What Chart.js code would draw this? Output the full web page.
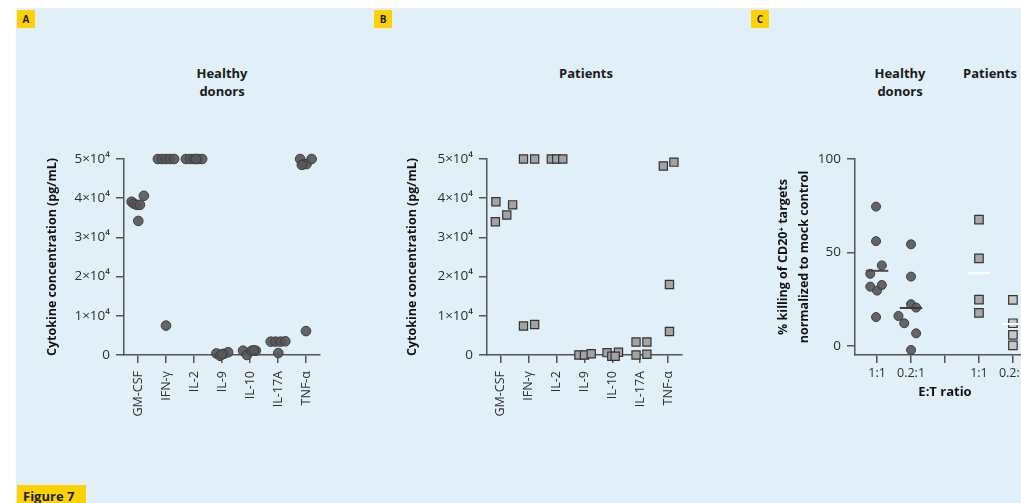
<!DOCTYPE html>
<html>
<head>
<meta charset="utf-8">
<script src="https://cdn.jsdelivr.net/npm/chart.js@4"></script>
<style>
  html, body { margin:0; padding:0; }
  body { width:1021px; height:503px; overflow:hidden; background:#ffffff; position:relative; font-family:'Open Sans', 'Noto Sans', sans-serif; }
  #bg { position:absolute; left:16px; top:8px; width:1005px; height:495px; background:#e1eff9; }
  .tag { position:absolute; background:#fdd200; color:#1a1a1a; font-weight:bold; font-size:10px; text-align:center; line-height:18px; width:18px; height:18px; }
  .ttl { position:absolute; color:#1a1a1a; font-weight:bold; font-size:13px; line-height:18px; text-align:center; transform:translateX(-50%); white-space:nowrap; }
  canvas { position:absolute; top:0; }
  #fig { position:absolute; left:17px; top:485px; width:69px; height:22px; background:#fdd200; color:#1a1a1a; font-weight:bold; font-size:13px; line-height:22px; padding-left:6px; box-sizing:border-box; }
</style>
</head>
<body>
<div id="bg"></div>
<div class="tag" style="left:17px;top:10px;">A</div>
<div class="tag" style="left:374px;top:10px;">B</div>
<div class="tag" style="left:751px;top:10px;">C</div>
<div class="ttl" style="left:222px;top:64px;">Healthy<br>donors</div>
<div class="ttl" style="left:586px;top:64px;">Patients</div>
<div class="ttl" style="left:900px;top:64px;">Healthy<br>donors</div>
<div class="ttl" style="left:990px;top:64px;">Patients</div>
<canvas id="cA" width="340" height="440" style="left:0px;width:340px;height:440px;"></canvas>
<canvas id="cB" width="340" height="440" style="left:360px;width:340px;height:440px;"></canvas>
<canvas id="cC" width="340" height="440" style="left:740px;width:340px;height:440px;"></canvas>
<div id="fig">Figure 7</div>
<script>
// ---------- DATA ----------
const cytokines = ['GM-CSF', 'IFN-γ', 'IL-2', 'IL-9', 'IL-10', 'IL-17A', 'TNF-α'];
const cytoTickValues = [0, 10000, 20000, 30000, 40000, 50000];
const cytoTickLabels = ['0', '1×10⁴', '2×10⁴', '3×10⁴', '4×10⁴', '5×10⁴'];

// Panel A: healthy donors (pg/mL), one list per cytokine
const healthyValues = [
  [39100, 38600, 38300, 38300, 40600, 34200],
  [50000, 50000, 50000, 50000, 50000, 7500],
  [50000, 50000, 50000, 50000, 50000, 50000],
  [400, -200, 300, 700, 200],
  [1100, 0, 1100, 1100, 1200],
  [3400, 3400, 3400, 3500, 500],
  [50000, 48700, 48700, 50000, 48500, 6100]
];
// horizontal scatter offsets within a category (category units)
const healthyJitter = [
  [-0.23, -0.15, -0.05, 0.07, 0.21, 0.01],
  [-0.29, -0.14, 0, 0.14, 0.29, 0],
  [-0.29, -0.14, 0, 0.14, 0.29, 0.07],
  [-0.2, -0.07, 0.07, 0.22, 0.0],
  [-0.25, -0.11, 0.06, 0.21, 0.14],
  [-0.26, -0.09, 0.09, 0.26, 0.01],
  [-0.21, -0.1, 0.02, 0.2, -0.15, 0]
];

// Panel B: patients (pg/mL)
const patientValues = [
  [39100, 34000, 35700, 38300],
  [50000, 50000, 7400, 7800],
  [50000, 50000, 50000],
  [0, 0, 300],
  [600, -300, 700, -300],
  [3300, 3300, 0, 200],
  [48200, 49200, 18000, 6000]
];
const patientJitter = [
  [-0.18, -0.2, 0.21, 0.42],
  [-0.19, 0.21, -0.19, 0.21],
  [-0.19, 0, 0.22],
  [-0.2, 0, 0.24],
  [-0.19, -0.02, 0.22, 0.1],
  [-0.15, 0.24, -0.15, 0.24],
  [-0.17, 0.21, 0.05, 0.05]
];

// Panel C: % killing of CD20+ targets
const etRatios = ['1:1', '0.2:1', '', '1:1', '0.2:1'];
const killTickValues = [0, 50, 100];
const killHealthy11 = [74.5, 56, 43, 38.5, 31.6, 29.5, 32.5, 15.3];
const killHealthy11Jitter = [-0.03, -0.03, 0.14, -0.2, -0.2, 0, 0.14, -0.03];
const killHealthy02 = [54.3, 37, 22.2, 20.4, 15.9, 12, 6.6, -2.3];
const killHealthy02Jitter = [0, 0, 0, 0.15, -0.37, -0.2, 0.15, 0];
const killPatients11 = [67.5, 46.8, 24.7, 17.6];
const killPatients02 = [24.5, 12, 5.8, 0.2];
const medianHealthy = [40.1, 20.2];
const medianPatients = [39, 11.6];

// ---------- STYLE HELPERS ----------
const FONT = "'Open Sans', 'Noto Sans', sans-serif";
const AXIS = '#555555';
const TXT = '#2e2e2e';

function pts(values, jitter, idx) {
  return values.map((v, j) => ({ x: idx + (jitter ? jitter[j] : 0), y: v }));
}
function axisCommon() {
  return {
    grid: { display: true, drawOnChartArea: false, drawTicks: true, tickLength: 8, color: AXIS, lineWidth: 1.5 },
    border: { display: true, color: AXIS, width: 1.5 }
  };
}
function baseOptions(padRight) {
  return {
    responsive: false,
    animation: false,
    events: [],
    layout: { padding: { top: 159, right: padRight, left: 0, bottom: 0 } },
    plugins: { legend: { display: false }, tooltip: { enabled: false }, title: { display: false } }
  };
}

function cytokineChart(id, values, jitter, style, yWidth, padRight) {
  const datasets = cytokines.map((c, i) => Object.assign({
    label: c,
    data: pts(values[i], jitter[i], i),
    clip: false
  }, style));
  const opts = baseOptions(padRight);
  opts.scales = {
    x: Object.assign(axisCommon(), {
      type: 'linear', min: -0.5, max: 6.5,
      afterBuildTicks: s => { s.ticks = cytokines.map((c, i) => ({ value: i })); },
      afterFit: s => { s.height = 85; },
      ticks: {
        autoSkip: false, minRotation: 90, maxRotation: 90, padding: 8, color: TXT,
        font: { family: FONT, size: 12.5 },
        callback: v => cytokines[Math.round(v)]
      }
    }),
    y: Object.assign(axisCommon(), {
      type: 'linear', min: 0, max: 50000,
      afterBuildTicks: s => { s.ticks = cytoTickValues.map(v => ({ value: v })); },
      afterFit: s => { s.width = yWidth; },
      ticks: {
        padding: 6, color: TXT, font: { family: FONT, size: 13.5 },
        callback: (v, i) => cytoTickLabels[i]
      },
      title: {
        display: true, text: 'Cytokine concentration (pg/mL)', color: '#111',
        font: { family: FONT, size: 12.5, weight: 'bold' },
        padding: { top: 45, bottom: 0 }
      }
    })
  };
  return new Chart(document.getElementById(id), { type: 'scatter', data: { datasets }, options: opts });
}

const circleStyle = {
  pointStyle: 'circle', pointRadius: 4.8,
  backgroundColor: 'rgba(88,88,88,0.92)', borderColor: '#3c3c3c', borderWidth: 1
};
const squareStyle = {
  pointStyle: 'rect', pointRadius: 5.8,
  backgroundColor: '#a3a3a3', borderColor: '#333333', borderWidth: 1.2
};

cytokineChart('cA', healthyValues, healthyJitter, circleStyle, 124, 20);
cytokineChart('cB', patientValues, patientJitter, squareStyle, 127, 18);

// Panel C
(function () {
  const medianLine = (m, i, color) => ({
    data: [{ x: i - 0.33, y: m }, { x: i + 0.33, y: m }],
    showLine: true, borderColor: color, borderWidth: 2, pointRadius: 0, clip: false, order: 0
  });
  const datasets = [
    Object.assign({ data: pts(killHealthy11, killHealthy11Jitter, 0), clip: false, order: 1 }, circleStyle, { pointRadius: 4.5 }),
    Object.assign({ data: pts(killHealthy02, killHealthy02Jitter, 1), clip: false, order: 1 }, circleStyle, { pointRadius: 4.5 }),
    Object.assign({ data: pts(killPatients11, null, 3), clip: false, order: 1 }, squareStyle, { pointRadius: 6, backgroundColor: '#a8a8a8' }),
    Object.assign({ data: pts(killPatients02, null, 4), clip: false, order: 1 }, squareStyle, { pointRadius: 6, backgroundColor: '#c8c8c8' }),
    medianLine(medianHealthy[0], 0, '#4a4a4a'),
    medianLine(medianHealthy[1], 1, '#3a3a3a'),
    medianLine(medianPatients[0], 3, '#ffffff'),
    medianLine(medianPatients[1], 4, '#ffffff')
  ];
  const opts = baseOptions(45);
  opts.scales = {
    x: Object.assign(axisCommon(), {
      type: 'linear', min: -0.65, max: 4.65,
      afterBuildTicks: s => { s.ticks = etRatios.map((r, i) => ({ value: i })); },
      afterFit: s => { s.height = 85; },
      ticks: {
        autoSkip: false, minRotation: 0, maxRotation: 0, padding: 3, color: TXT,
        font: { family: FONT, size: 12.5 },
        callback: v => etRatios[Math.round(v)]
      },
      title: {
        display: true, text: 'E:T ratio', color: '#111',
        font: { family: FONT, size: 13, weight: 'bold' },
        padding: { top: 0, bottom: 40 }
      }
    }),
    y: Object.assign(axisCommon(), {
      type: 'linear', min: -5, max: 100,
      afterBuildTicks: s => { s.ticks = killTickValues.map(v => ({ value: v })); },
      afterFit: s => { s.width = 115; },
      ticks: { padding: 6, color: TXT, font: { family: FONT, size: 13.5 } },
      title: {
        display: true, text: ['% killing of CD20⁺ targets', 'normalized to mock control'], color: '#111',
        font: { family: FONT, size: 12.5, weight: 'bold', lineHeight: 1.75 },
        padding: { top: 32, bottom: 0 }
      }
    })
  };
  new Chart(document.getElementById('cC'), { type: 'scatter', data: { datasets }, options: opts });
})();
</script>
</body>
</html>
